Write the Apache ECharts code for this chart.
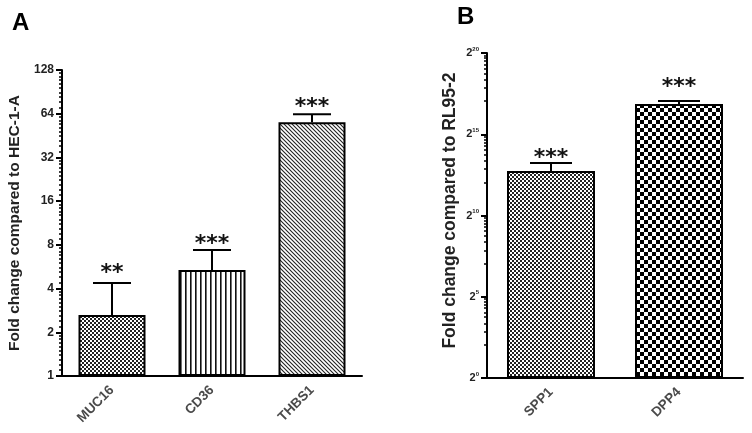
<!DOCTYPE html>
<html><head><meta charset="utf-8">
<script src="https://cdn.jsdelivr.net/npm/echarts@6/dist/echarts.min.js"></script>
<style>html,body{margin:0;padding:0;background:#fff}#c{width:752px;height:433px}</style>
</head><body><div id="c"></div>
<script>
// Panel A data
const catsA = ['MUC16', 'CD36', 'THBS1'];
const meanA = [2.63, 5.38, 56];
const errTopA = [4.37, 7.37, 63.5];
const sigA = ['**', '***', '***'];
const sigLevelA = [5.46, 8.65, 76];
const ticksA = [1, 2, 4, 8, 16, 32, 64, 128];
// Panel B data
const catsB = ['SPP1', 'DPP4'];
const meanB = [6840, 118900];
const errTopB = [9600, 135000];
const sigB = ['***', '***'];
const sigLevelB = [14080, 291000];
const expTicksB = [0, 5, 10, 15, 20];

function pat(w, h, draw) {
  const c = document.createElement('canvas'); c.width = w; c.height = h;
  const g = c.getContext('2d'); g.fillStyle = '#fff'; g.fillRect(0, 0, w, h); draw(g);
  return { image: c, repeat: 'repeat' };
}
const fineChecker = pat(4, 4, g => { g.fillStyle = '#222'; g.fillRect(0,0,2,2); g.fillRect(2,2,2,2); });
const vStripes = pat(5, 4, g => { g.fillStyle = '#111'; g.fillRect(0,0,1.6,4); });
const diag = pat(4, 4, g => { g.strokeStyle = '#222'; g.lineWidth = 1.1;
  g.beginPath(); g.moveTo(-1,-1); g.lineTo(5,5); g.moveTo(3,-1); g.lineTo(5,1); g.moveTo(-1,3); g.lineTo(1,5); g.stroke(); });
const bigChecker = pat(8, 8, g => { g.fillStyle = '#000'; g.fillRect(0,0,4,4); g.fillRect(4,4,4,4); });
const patsA = [fineChecker, vStripes, diag];
const patsB = [fineChecker, bigChecker];

const font = 'Liberation Sans, Arial, sans-serif';

function errRender(sigs, capW) {
  return function (params, api) {
    const i = api.value(0);
    const pTop = api.coord([i, api.value(1)]);
    const pBar = api.coord([i, api.value(2)]);
    const pSig = api.coord([i, api.value(3)]);
    return { type: 'group', children: [
      { type: 'line', shape: { x1: pTop[0], y1: pBar[1], x2: pTop[0], y2: pTop[1] }, style: { stroke: '#000', lineWidth: 2 } },
      { type: 'line', shape: { x1: pTop[0] - capW / 2, y1: pTop[1], x2: pTop[0] + capW / 2, y2: pTop[1] }, style: { stroke: '#000', lineWidth: 2 } },
      { type: 'text', x: pSig[0], y: pSig[1] + 4, style: { text: sigs[i], fill: '#111', font: 'bold 22px DejaVu Sans, sans-serif', align: 'center', verticalAlign: 'middle' } }
    ] };
  };
}

const yAxisCommon = {
  axisLine: { show: true, lineStyle: { color: '#000', width: 2 } },
  axisTick: { show: true, inside: false, length: 6, lineStyle: { color: '#000', width: 2 } },
  minorTick: { show: true, splitNumber: 10, length: 3, lineStyle: { color: '#000', width: 1.5 } },
  splitLine: { show: false },
  nameLocation: 'middle'
};
const xAxisCommon = {
  type: 'category',
  axisLine: { lineStyle: { color: '#000', width: 2 } },
  axisTick: { alignWithLabel: true, length: 6, lineStyle: { color: '#000', width: 2 } },
  axisLabel: { rotate: 45, fontFamily: font, fontSize: 13.5, fontWeight: 'bold', color: '#4a4a4a', margin: 12 }
};

const option = {
  animation: false,
  title: [
    { text: 'A', left: 12, top: 11, padding: 0, textStyle: { fontFamily: font, fontSize: 24, fontWeight: 'bold', color: '#000' } },
    { text: 'B', left: 457, top: 5, padding: 0, textStyle: { fontFamily: font, fontSize: 24, fontWeight: 'bold', color: '#000' } }
  ],
  grid: [
    { left: 62, top: 70, width: 300, height: 306 },
    { left: 487, top: 53, width: 256, height: 325 }
  ],
  xAxis: [
    Object.assign({}, xAxisCommon, { gridIndex: 0, data: catsA }),
    Object.assign({}, xAxisCommon, { gridIndex: 1, data: catsB })
  ],
  yAxis: [
    Object.assign({}, yAxisCommon, {
      gridIndex: 0, type: 'log', logBase: 2, min: ticksA[0], max: ticksA[ticksA.length - 1], interval: 1,
      name: 'Fold change compared to HEC-1-A', nameGap: 39,
      nameTextStyle: { fontFamily: font, fontWeight: 'bold', fontSize: 15.5, color: '#222' },
      axisLabel: { fontFamily: font, fontSize: 12, fontWeight: 'bold', color: '#222', margin: 8 }
    }),
    Object.assign({}, yAxisCommon, {
      gridIndex: 1, type: 'log', logBase: 2, min: Math.pow(2, expTicksB[0]), max: Math.pow(2, expTicksB[expTicksB.length - 1]), interval: 5,
      name: 'Fold change compared to RL95-2', nameGap: 28,
      nameTextStyle: { fontFamily: font, fontWeight: 'bold', fontSize: 17.5, color: '#222', padding: [0, 0, 0, 10] },
      axisLabel: { margin: 8, formatter: v => '{b|2}{s|' + Math.round(Math.log2(v)) + '}',
        rich: { b: { fontFamily: font, fontSize: 11, fontWeight: 'bold', color: '#222' },
                s: { fontFamily: font, fontSize: 6, fontWeight: 'bold', color: '#222', verticalAlign: 'top', padding: [0, 0, 8, 0] } } }
    })
  ],
  series: [
    { type: 'bar', xAxisIndex: 0, yAxisIndex: 0, barWidth: 67,
      data: meanA.map((v, i) => ({ value: v, itemStyle: { color: patsA[i] } })),
      itemStyle: { borderColor: '#000', borderWidth: 2 } },
    { type: 'custom', xAxisIndex: 0, yAxisIndex: 0, z: 5,
      data: meanA.map((v, i) => [i, errTopA[i], v, sigLevelA[i]]),
      renderItem: errRender(sigA, 38) },
    { type: 'bar', xAxisIndex: 1, yAxisIndex: 1, barWidth: 88,
      data: meanB.map((v, i) => ({ value: v, itemStyle: { color: patsB[i] } })),
      itemStyle: { borderColor: '#000', borderWidth: 2 } },
    { type: 'custom', xAxisIndex: 1, yAxisIndex: 1, z: 5,
      data: meanB.map((v, i) => [i, errTopB[i], v, sigLevelB[i]]),
      renderItem: errRender(sigB, 42) }
  ]
};
const chart = echarts.init(document.getElementById('c'), null, { renderer: 'canvas' });
chart.setOption(option);
</script></body></html>
